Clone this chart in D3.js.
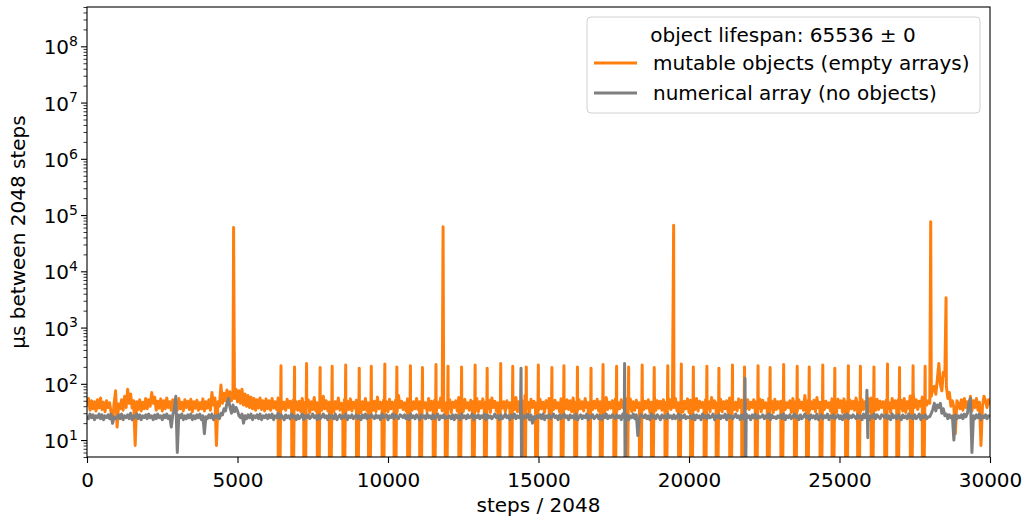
<!DOCTYPE html>
<html>
<head>
<meta charset="utf-8">
<style>
body { margin: 0; background: #fff; }
svg text { font-family: "DejaVu Sans", sans-serif; fill: #000; }
</style>
</head>
<body>
<svg id="chart" width="1022" height="518"></svg>
<script src="https://cdn.jsdelivr.net/npm/d3@7"></script>
<script>
// one sample every 50 steps (one row = 1000 steps)
var stepSize = 50;
var orangeBase = [
    40, 55, 34, 50, 36, 48, 33, 52, 37, 56, 35, 47, 32, 50, 38, 46, 31, 20, 45, 75,
    17, 44, 36, 52, 34, 60, 38, 80, 45, 66, 37, 50, 8, 48, 35, 52, 33, 47, 36, 55,
    36, 52, 40, 70, 45, 58, 34, 49, 37, 54, 33, 50, 36, 56, 38, 48, 34, 52, 37, 45,
    34, 55, 36, 47, 33, 52, 38, 49, 35, 53, 32, 48, 37, 51, 34, 46, 36, 54, 33, 48,
    37, 52, 34, 70, 42, 56, 8, 48, 40, 95, 45, 68, 50, 78, 46, 72, 50, 70, 55, 80,
    48, 75, 45, 80, 42, 66, 40, 62, 38, 58, 36, 55, 34, 52, 37, 56, 35, 50, 33, 54,
    36, 50, 34, 55, 37, 48, 35, 56, 33, 52, 36, 47, 34, 53, 38, 49, 32, 51, 35, 48,
    34, 49, 32, 55, 36, 47, 38, 52, 31, 48, 35, 57, 33, 46, 37, 51, 34, 60, 36, 50,
    33, 47, 37, 53, 32, 48, 36, 56, 34, 45, 38, 52, 31, 49, 35, 54, 33, 47, 37, 51,
    36, 50, 31, 48, 35, 55, 33, 46, 37, 52, 34, 49, 32, 58, 36, 47, 38, 51, 33, 48,
    32, 53, 36, 47, 34, 51, 31, 62, 38, 49, 35, 46, 33, 54, 37, 50, 34, 48, 36, 55,
    35, 48, 33, 52, 37, 46, 32, 55, 34, 49, 36, 51, 31, 47, 38, 56, 33, 50, 35, 46,
    36, 52, 31, 47, 38, 50, 33, 57, 35, 48, 32, 53, 37, 46, 34, 51, 36, 49, 33, 55,
    32, 48, 37, 54, 34, 47, 36, 51, 31, 56, 38, 49, 33, 46, 35, 52, 37, 48, 32, 50,
    38, 46, 33, 51, 35, 57, 32, 48, 37, 50, 34, 62, 36, 47, 31, 53, 38, 49, 35, 46,
    34, 53, 36, 47, 31, 50, 38, 55, 33, 48, 35, 51, 37, 46, 32, 54, 34, 49, 36, 52,
    35, 50, 32, 56, 37, 47, 34, 52, 36, 48, 33, 55, 38, 46, 31, 51, 35, 49, 37, 53,
    33, 48, 38, 51, 31, 57, 35, 47, 37, 50, 34, 53, 32, 46, 36, 52, 38, 48, 33, 55,
    36, 54, 32, 48, 34, 51, 38, 46, 33, 56, 35, 49, 37, 52, 31, 47, 36, 60, 34, 50,
    37, 49, 34, 52, 32, 47, 36, 53, 35, 48, 38, 55, 33, 46, 37, 51, 32, 49, 36, 54,
    31, 51, 37, 46, 35, 55, 33, 49, 38, 47, 34, 52, 36, 48, 32, 57, 37, 50, 35, 46,
    34, 53, 32, 48, 36, 50, 31, 56, 37, 49, 35, 47, 33, 54, 38, 51, 34, 46, 36, 52,
    35, 47, 38, 52, 33, 48, 36, 54, 32, 51, 37, 46, 34, 55, 36, 49, 31, 53, 35, 48,
    37, 49, 34, 53, 35, 46, 38, 50, 31, 55, 36, 48, 33, 52, 37, 47, 34, 62, 32, 50,
    33, 48, 36, 51, 32, 57, 37, 47, 34, 52, 35, 49, 38, 46, 33, 54, 36, 50, 31, 53,
    38, 50, 31, 54, 35, 48, 33, 51, 36, 49, 34, 56, 37, 47, 32, 52, 35, 48, 38, 55,
    32, 56, 37, 47, 34, 53, 35, 49, 38, 48, 33, 51, 36, 46, 31, 55, 37, 50, 34, 52,
    36, 51, 33, 55, 31, 48, 37, 61, 45, 66, 38, 52, 35, 49, 40, 58, 36, 54, 42, 50,
    45, 60, 80, 90, 65, 120, 230, 100, 75, 160, 140, 90, 55, 70, 40, 50, 38, 13, 50, 45,
    36, 52, 34, 55, 38, 48, 35, 60, 33, 50, 38, 55, 34, 47, 8, 40, 60, 50, 38, 52,
    42
];
var greyBase = [
    27, 24, 29, 25, 28, 23, 27, 25, 29, 24, 28, 23, 27, 25, 28, 24, 29, 20, 26, 24,
    25, 28, 24, 29, 23, 27, 25, 28, 24, 30, 23, 27, 25, 29, 24, 28, 23, 27, 25, 28,
    24, 29, 25, 27, 23, 28, 24, 29, 25, 27, 23, 28, 25, 29, 24, 27, 17, 28, 35, 60,
    6, 28, 25, 29, 23, 27, 24, 28, 25, 29, 23, 27, 24, 28, 25, 29, 23, 27, 13, 26,
    24, 28, 25, 29, 23, 27, 25, 28, 24, 30, 28, 36, 33, 45, 55, 38, 30, 42, 32, 38,
    33, 27, 25, 29, 20, 27, 24, 28, 25, 29, 23, 27, 25, 28, 24, 29, 23, 27, 25, 28,
    24, 28, 25, 29, 23, 27, 25, 30, 24, 28, 26, 23, 28, 25, 27, 24, 29, 25, 27, 23,
    28, 24, 26, 29, 23, 27, 25, 28, 24, 26, 29, 25, 27, 23, 28, 24, 26, 29, 25, 27,
    23, 28, 25, 27, 24, 29, 23, 26, 28, 24, 27, 25, 29, 23, 27, 25, 28, 24, 26, 28,
    24, 27, 23, 28, 25, 29, 24, 27, 25, 28, 26, 24, 28, 25, 27, 23, 29, 25, 26, 28,
    23, 27, 25, 29, 24, 28, 26, 24, 28, 27, 25, 28, 24, 27, 23, 29, 25, 27, 24, 28,
    26, 23, 28, 25, 27, 24, 29, 25, 27, 24, 28, 24, 26, 29, 23, 27, 25, 28, 24, 26,
    25, 27, 24, 28, 23, 28, 25, 27, 23, 29, 25, 27, 24, 28, 25, 26, 29, 23, 27, 25,
    28, 24, 27, 25, 29, 23, 28, 25, 27, 24, 26, 29, 25, 27, 23, 28, 24, 26, 29, 25,
    27, 23, 28, 25, 29, 24, 27, 25, 26, 28, 24, 27, 25, 29, 23, 28, 20, 26, 24, 27,
    25, 28, 24, 29, 23, 27, 25, 28, 24, 26, 29, 25, 27, 23, 28, 24, 26, 29, 25, 27,
    23, 28, 25, 27, 24, 29, 23, 26, 28, 24, 27, 25, 29, 23, 27, 25, 28, 24, 26, 28,
    24, 27, 23, 28, 25, 29, 24, 27, 25, 28, 26, 24, 28, 25, 27, 23, 29, 25, 26, 28,
    23, 27, 25, 29, 24, 28, 12, 24, 28, 27, 25, 28, 24, 27, 23, 29, 25, 27, 24, 28,
    26, 23, 28, 25, 27, 24, 29, 25, 27, 24, 28, 24, 26, 29, 23, 27, 25, 28, 24, 26,
    25, 27, 24, 28, 23, 28, 25, 27, 23, 29, 25, 27, 24, 28, 25, 26, 29, 23, 27, 25,
    28, 24, 27, 25, 29, 23, 28, 25, 27, 24, 26, 29, 25, 27, 23, 28, 24, 26, 29, 25,
    27, 23, 28, 25, 29, 24, 27, 25, 26, 28, 24, 27, 25, 29, 23, 28, 25, 26, 24, 27,
    25, 28, 24, 29, 23, 27, 25, 28, 24, 26, 29, 25, 27, 23, 28, 24, 26, 29, 25, 27,
    23, 28, 25, 27, 24, 29, 23, 26, 28, 24, 27, 25, 29, 23, 27, 25, 28, 24, 26, 28,
    24, 27, 23, 28, 25, 29, 24, 27, 25, 28, 26, 24, 28, 25, 27, 23, 29, 25, 26, 28,
    23, 27, 25, 29, 24, 28, 26, 24, 28, 27, 25, 28, 24, 27, 23, 29, 25, 27, 24, 28,
    26, 23, 28, 25, 27, 24, 29, 25, 27, 24, 28, 24, 26, 29, 23, 27, 25, 28, 24, 26,
    26, 30, 35, 45, 33, 42, 38, 45, 30, 36, 27, 29, 24, 28, 25, 27, 10, 28, 24, 27,
    25, 28, 24, 29, 26, 30, 45, 55, 6, 27, 24, 28, 25, 29, 23, 27, 25, 28, 24, 27,
    26
];
// [step, µs] extra points: drops to ~0 and the spikes right after them
var orangeSpikes = [
    [4870, 60000],
    [6355, 1], [6405, 1], [6445, 210], [6805, 1], [6855, 1], [6895, 200],
    [7205, 1], [7255, 1], [7295, 230], [7655, 1], [7705, 1], [7745, 195],
    [8055, 1], [8105, 1], [8145, 205], [8505, 1], [8555, 1], [8595, 215],
    [8955, 1], [9005, 1], [9045, 190], [9355, 1], [9405, 1], [9445, 205],
    [9805, 1], [9855, 1], [9895, 225], [10205, 1], [10255, 1], [10295, 200],
    [10655, 1], [10705, 1], [10745, 210], [11055, 1], [11105, 1], [11145, 195],
    [11505, 1], [11555, 1], [11595, 220], [11830, 62000],
    [11905, 1], [11955, 1], [11995, 205], [12355, 1], [12405, 1], [12445, 200],
    [12805, 1], [12855, 1], [12895, 215], [13205, 1], [13255, 1], [13295, 190],
    [13655, 1], [13705, 1], [13745, 230], [14055, 1], [14105, 1], [14145, 205],
    [14505, 1], [14555, 1], [14595, 200], [14905, 1], [14955, 1], [14995, 215],
    [15355, 1], [15405, 1], [15445, 195], [15755, 1], [15805, 1], [15845, 210],
    [16205, 1], [16255, 1], [16295, 200], [16655, 1], [16705, 1], [16745, 190],
    [17055, 1], [17105, 1], [17145, 220], [17505, 1], [17555, 1], [17595, 205],
    [17905, 1], [17955, 1], [17995, 200], [18355, 1], [18405, 1], [18445, 215],
    [18755, 1], [18805, 1], [18845, 195], [19205, 1], [19255, 1], [19295, 210],
    [19490, 66000],
    [19655, 1], [19705, 1], [19745, 225], [20055, 1], [20105, 1], [20145, 200],
    [20505, 1], [20555, 1], [20595, 205], [20905, 1], [20955, 1], [20995, 190],
    [21355, 1], [21405, 1], [21445, 215], [21755, 1], [21805, 1], [21845, 200],
    [22205, 1], [22255, 1], [22295, 210], [22605, 1], [22655, 1], [22695, 195],
    [23055, 1], [23105, 1], [23145, 220], [23505, 1], [23555, 1], [23595, 205],
    [23905, 1], [23955, 1], [23995, 200], [24355, 1], [24405, 1], [24445, 215],
    [24755, 1], [24805, 1], [24845, 190], [25205, 1], [25255, 1], [25295, 210],
    [25605, 1], [25655, 1], [25695, 205], [26055, 1], [26105, 1], [26145, 200],
    [26505, 1], [26555, 1], [26595, 225], [26905, 1], [26955, 1], [26995, 195],
    [27355, 1], [27405, 1], [27445, 210], [27755, 1], [27805, 1], [27845, 205],
    [28030, 76000], [28540, 3400]
];
var greySpikes = [
    [14420, 190], [14440, 1], [17860, 230], [17880, 1],
    [21860, 126], [21880, 1], [25910, 77], [25940, 11]
];
var xTicks = [0, 5000, 10000, 15000, 20000, 25000, 30000];
var yDecades = [1, 2, 3, 4, 5, 6, 7, 8];
var legendTitle = "object lifespan: 65536 \u00b1 0";
var seriesNames = ["mutable objects (empty arrays)", "numerical array (no objects)"];
var seriesColors = ["#ff7f0e", "#7f7f7f"];

const svg = d3.select("#chart");
const plotLeft = 87, plotRight = 990, plotTop = 7, plotBottom = 457;
const fontSize = "20px";
const lineWidth = 3;

const x = d3.scaleLinear().domain([0, 30000]).range([plotLeft, plotRight]);
const y = d3.scaleLog().domain([5, 5e8]).range([plotBottom, plotTop]);

function buildSeries(base, spikes) {
    var pts = base.map((v, i) => [i * stepSize, v]);
    pts = pts.concat(spikes);
    pts.sort((a, b) => a[0] - b[0]);
    return pts;
}

svg.append("clipPath").attr("id", "plot-clip")
    .append("rect")
    .attr("x", plotLeft).attr("y", plotTop)
    .attr("width", plotRight - plotLeft).attr("height", plotBottom - plotTop);

const line = d3.line()
    .x(d => x(d[0]))
    .y(d => y(d[1]));

const plot = svg.append("g").attr("clip-path", "url(#plot-clip)");

plot.append("path")
    .datum(buildSeries(orangeBase, orangeSpikes))
    .attr("d", line)
    .attr("fill", "none")
    .attr("stroke", seriesColors[0])
    .attr("stroke-width", lineWidth)
    .attr("stroke-linejoin", "round");

plot.append("path")
    .datum(buildSeries(greyBase, greySpikes))
    .attr("d", line)
    .attr("fill", "none")
    .attr("stroke", seriesColors[1])
    .attr("stroke-width", lineWidth)
    .attr("stroke-linejoin", "round");

// x axis
const xAxis = svg.append("g")
    .attr("transform", "translate(0," + plotBottom + ")")
    .call(d3.axisBottom(x).tickValues(xTicks).tickSize(6).tickPadding(10).tickFormat(d3.format("d")));
xAxis.select(".domain").remove();
xAxis.selectAll(".tick line").attr("stroke", "#000").attr("stroke-width", 1.1);
xAxis.selectAll(".tick text").attr("font-size", fontSize).attr("font-family", "DejaVu Sans");

// y axis, minor ticks
var minors = [];
yDecades.concat([0]).forEach(e => {
    for (var m = 2; m <= 9; m++) {
        var v = m * Math.pow(10, e);
        if (v >= 5 && v <= 5e8) minors.push(v);
    }
});
const yMinor = svg.append("g")
    .attr("transform", "translate(" + plotLeft + ",0)")
    .call(d3.axisLeft(y).tickValues(minors).tickSize(3.5).tickFormat(""));
yMinor.select(".domain").remove();
yMinor.selectAll(".tick line").attr("stroke", "#000").attr("stroke-width", 0.8);

const yMajor = svg.append("g")
    .attr("transform", "translate(" + plotLeft + ",0)")
    .call(d3.axisLeft(y).tickValues(yDecades.map(e => Math.pow(10, e))).tickSize(6).tickFormat(""));
yMajor.select(".domain").remove();
yMajor.selectAll(".tick line").attr("stroke", "#000").attr("stroke-width", 1.1);

yMajor.selectAll(".tick").each(function(d) {
    var t = d3.select(this).append("text")
        .attr("x", -9)
        .attr("dy", "0.38em")
        .attr("text-anchor", "end")
        .attr("font-size", fontSize)
        .attr("font-family", "DejaVu Sans")
        .attr("fill", "#000");
    t.append("tspan").text("10");
    t.append("tspan")
        .attr("font-size", "14px")
        .attr("dy", "-0.6em")
        .text(Math.round(Math.log10(d)));
});

// frame
svg.append("rect")
    .attr("x", plotLeft).attr("y", plotTop)
    .attr("width", plotRight - plotLeft).attr("height", plotBottom - plotTop)
    .attr("fill", "none")
    .attr("stroke", "#000")
    .attr("stroke-width", 1.1);

// axis labels
svg.append("text")
    .attr("x", (plotLeft + plotRight) / 2)
    .attr("y", 512)
    .attr("text-anchor", "middle")
    .attr("font-size", fontSize)
    .text("steps / 2048");

svg.append("text")
    .attr("transform", "translate(25,232) rotate(-90)")
    .attr("text-anchor", "middle")
    .attr("font-size", fontSize)
    .text("\u00b5s between 2048 steps");

// legend
const legend = svg.append("g");
legend.append("rect")
    .attr("x", 587).attr("y", 17)
    .attr("width", 393).attr("height", 96)
    .attr("rx", 4)
    .attr("fill", "rgba(255,255,255,0.8)")
    .attr("stroke", "#d0d0d0")
    .attr("stroke-width", 1);
legend.append("text")
    .attr("x", 783).attr("y", 42)
    .attr("text-anchor", "middle")
    .attr("font-size", fontSize)
    .text(legendTitle);
seriesNames.forEach((name, i) => {
    var ly = 63 + i * 30;
    legend.append("line")
        .attr("x1", 594).attr("x2", 637)
        .attr("y1", ly).attr("y2", ly)
        .attr("stroke", seriesColors[i])
        .attr("stroke-width", lineWidth);
    legend.append("text")
        .attr("x", 653).attr("y", ly)
        .attr("dy", "0.36em")
        .attr("font-size", fontSize)
        .text(name);
});
</script>
</body>
</html>
